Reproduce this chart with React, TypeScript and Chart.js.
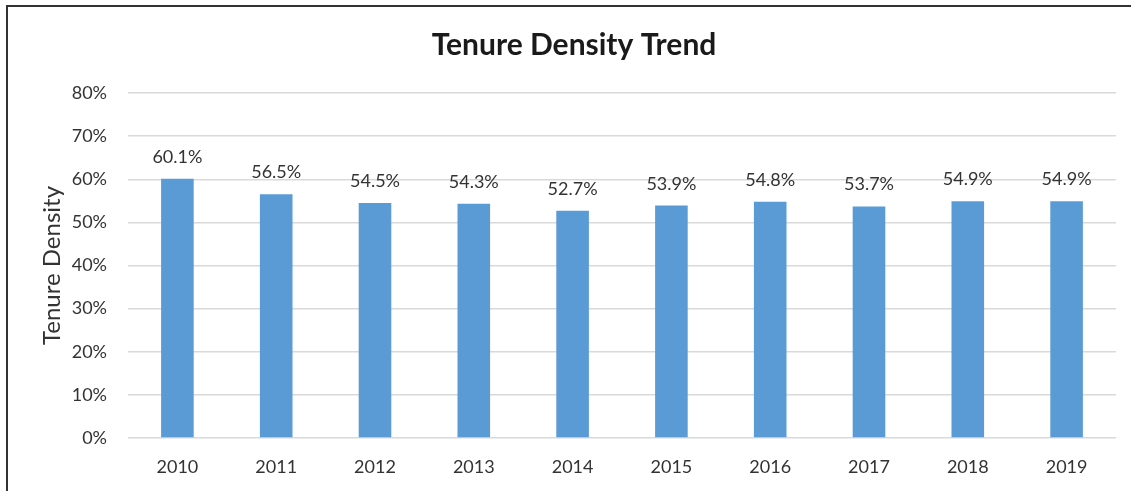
import React, { useEffect, useRef } from "react";
import { Chart, registerables } from "chart.js";

Chart.register(...registerables);

const categories = ["2010", "2011", "2012", "2013", "2014", "2015", "2016", "2017", "2018", "2019"];
const tenureDensity = [60.1, 56.5, 54.5, 54.3, 52.7, 53.9, 54.8, 53.7, 54.9, 54.9];
const yTicks = [0, 10, 20, 30, 40, 50, 60, 70, 80];

const FONT = "Lato";
const TEXT = "#333333";

const dataLabels = {
  id: "dataLabels",
  afterDatasetsDraw(chart: any) {
    const ctx = chart.ctx;
    const meta = chart.getDatasetMeta(0);
    ctx.save();
    ctx.font = `18px ${FONT}`;
    ctx.fillStyle = TEXT;
    ctx.textAlign = "center";
    ctx.textBaseline = "alphabetic";
    meta.data.forEach((bar: any, i: number) => {
      ctx.fillText(tenureDensity[i].toFixed(1) + "%", bar.x, bar.y - 16);
    });
    ctx.restore();
  },
};

export default function App() {
  const ref = useRef<HTMLCanvasElement | null>(null);
  useEffect(() => {
    if (!ref.current) return;
    const chart = new Chart(ref.current, {
      type: "bar",
      data: {
        labels: categories,
        datasets: [
          {
            data: tenureDensity,
            backgroundColor: "#5B9BD5",
            barPercentage: 0.33,
            categoryPercentage: 1,
          },
        ],
      },
      options: {
        animation: false,
        responsive: false,
        maintainAspectRatio: false,
        layout: { padding: { left: 32, right: 15, top: 0, bottom: 0 } },
        plugins: {
          legend: { display: false },
          tooltip: { enabled: false },
          title: {
            display: true,
            text: "Tenure Density Trend",
            color: "#1a1a1a",
            font: { family: FONT, size: 30, weight: "bold" },
            padding: { top: 27, bottom: 30 },
          },
        },
        scales: {
          x: {
            grid: { display: false },
            border: { display: false },
            ticks: { font: { family: FONT, size: 18 }, color: TEXT, padding: 10 },
            afterFit(scale: any) {
              scale.height = 53;
            },
          },
          y: {
            min: 0,
            max: 80,
            afterBuildTicks(scale: any) {
              scale.ticks = yTicks.map((v) => ({ value: v }));
            },
            grid: { color: "#d9d9d9", lineWidth: 1.5, drawTicks: false },
            border: { display: false },
            ticks: {
              font: { family: FONT, size: 18 },
              color: TEXT,
              padding: 21,
              callback: (v: any) => v + "%",
            },
            title: {
              display: true,
              text: "Tenure Density",
              color: TEXT,
              font: { family: FONT, size: 24 },
              padding: { top: 5.6, bottom: 0 },
            },
            afterFit(scale: any) {
              scale.width = 96;
            },
          },
        },
      },
      plugins: [dataLabels],
    });
    return () => chart.destroy();
  }, []);

  return (
    <div
      style={{
        position: "fixed",
        left: 0,
        top: 0,
        width: 1131,
        height: 491,
        overflow: "hidden",
        background: "#ffffff",
      }}
    >
      <div
        style={{
          position: "absolute",
          left: 6,
          top: 5,
          width: 1160,
          height: 620,
          border: "2px solid #333333",
        }}
      />
      <canvas
        ref={ref}
        width={1131}
        height={491}
        style={{ position: "absolute", left: 0, top: 0, width: 1131, height: 491 }}
      />
    </div>
  );
}
